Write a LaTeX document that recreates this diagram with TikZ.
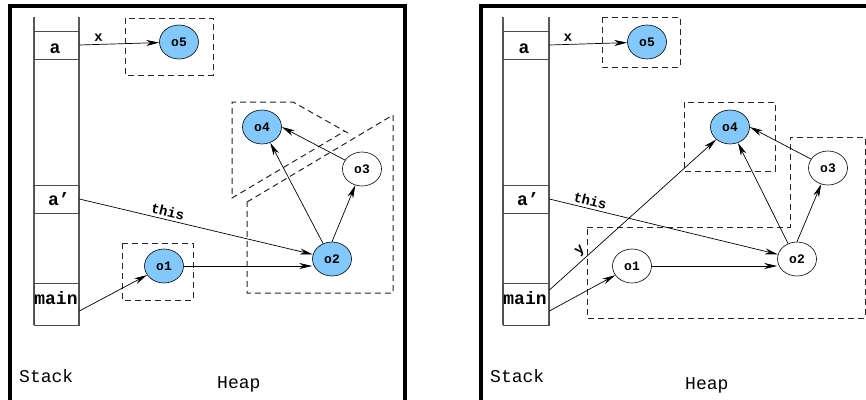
\documentclass[tikz,border=0pt]{standalone}
\usepackage{fontspec}
\newfontfamily\codefont{Liberation Mono}
\usepackage{tikz}
\usetikzlibrary{arrows.meta,shapes.geometric}
\definecolor{objblue}{RGB}{130,200,250}
\tikzset{
    >={Stealth[length=13pt,width=6pt,inset=4pt]},
    x=1pt, y=-1pt,
    frame/.style={line width=3.5pt},
    column/.style={draw=black!65,line width=1.1pt},
    cell/.style={draw=black!70,line width=0.8pt,minimum width=45pt,inner sep=0pt},
    slot label/.style={font=\codefont\bfseries\fontsize{18}{18}\selectfont,anchor=base,inner sep=0pt},
    obj/.style={ellipse,draw,line width=0.6pt,minimum width=39pt,minimum height=34pt,inner sep=0pt,
        font=\codefont\bfseries\fontsize{13}{13}\selectfont},
    live/.style={obj,fill=objblue},
    region/.style={draw=black!85,line width=1pt,dash pattern=on 6pt off 4pt},
    ref/.style={->,line width=0.7pt},
    ref label/.style={font=\codefont\bfseries\fontsize{14}{14}\selectfont,sloped,above,inner sep=3pt},
    area label/.style={font=\codefont\fontsize{18}{18}\selectfont,anchor=base west,inner sep=0pt}
}
\begin{document}
\begin{tikzpicture}
    \useasboundingbox (0,0) rectangle (866,399);
    \clip (0,0) rectangle (866,399);
    \fill[white] (0,0) rectangle (866,399);
    % left: before the call
    \draw[frame] (10,402) -- (10,6) -- (405,6) -- (405,402);
    \draw[column] (34,17) -- (34,325) (79,17) -- (79,325);
    \node[cell, minimum height=28pt] (a) at (56.5,45) {};
    \node[cell, minimum height=28pt] (ap) at (56.5,199) {};
    \node[cell, minimum height=42pt] (main) at (56.5,304) {};
    \node[slot label] (la) at (55,53) {a};
    \node[slot label] (lap) at (59,205) {a’};
    \node[slot label] (lmain) at (56,304) {main};
    \node[live] (o5) at (179,42) {o5};
    \node[live] (o4) at (262,127) {o4};
    \node[obj] (o3) at (362,169) {o3};
    \node[live] (o2) at (332,259) {o2};
    \node[live] (o1) at (164,266) {o1};
    \draw[region] (125,18) rectangle (213,75);
    \draw[region] (122,243) rectangle (193,300);
    \draw[region] (348,133) -- (293,102) -- (232,102) -- (232,198) -- (345,131);
    \draw[region] (247,202) -- (393,115) -- (393,293) -- (247,293) -- cycle;
    \path[ref]
        (a.east) edge node[ref label, pos=0.24] {x} (o5)
        (ap.east) edge node[ref label, pos=0.37] {this} (o2)
        ([yshift=-7pt]main.east) edge (o1)
        (o1.east) edge (o1.east -| o2.west)
        (o2.120) edge (o4)
        (o2.north) edge (o3)
        (o3) edge (o4.east)
        ;
    \node[area label] (stack) at (19,382) {Stack};
    \node[area label] (heap) at (217,388) {Heap};
    % right: after the call
    \draw[frame] (481,402) -- (481,6) -- (876,6) -- (876,402);
    \draw[column] (503,17) -- (503,325) (549,17) -- (549,325);
    \node[cell, minimum width=46pt, minimum height=28pt] (b) at (526,45) {};
    \node[cell, minimum width=46pt, minimum height=28pt] (bp) at (526,199) {};
    \node[cell, minimum width=46pt, minimum height=42pt] (bmain) at (526,304) {};
    \node[slot label] (lb) at (524,53) {a};
    \node[slot label] (lbp) at (528,205) {a’};
    \node[slot label] (lbmain) at (525,304) {main};
    \node[live] (p5) at (647,42) {o5};
    \node[live] (p4) at (730,127) {o4};
    \node[obj] (p3) at (828,168) {o3};
    \node[obj] (p2) at (797,259) {o2};
    \node[obj] (p1) at (632,266) {o1};
    \draw[region] (602,17) rectangle (680,67);
    \draw[region] (684,102) rectangle (775,171);
    \draw[region] (587,227) -- (790,227) -- (790,137) -- (865,137) -- (865,318) -- (587,318) -- cycle;
    \path[ref]
        (b.east) edge node[ref label, pos=0.24] {x} (p5)
        (bp.east) edge node[ref label, pos=0.17] {this} (p2)
        ([yshift=14pt]bmain.east) edge node[ref label, pos=0.22] {y} (p4)
        ([yshift=-7pt]bmain.east) edge (p1)
        (p1.east) edge (p1.east -| p2.west)
        (p2.120) edge (p4)
        (p2.north) edge (p3)
        (p3) edge (p4.east)
        ;
    \node[area label] (stackb) at (490,382) {Stack};
    \node[area label] (heapb) at (685,389) {Heap};
\end{tikzpicture}
\end{document}
